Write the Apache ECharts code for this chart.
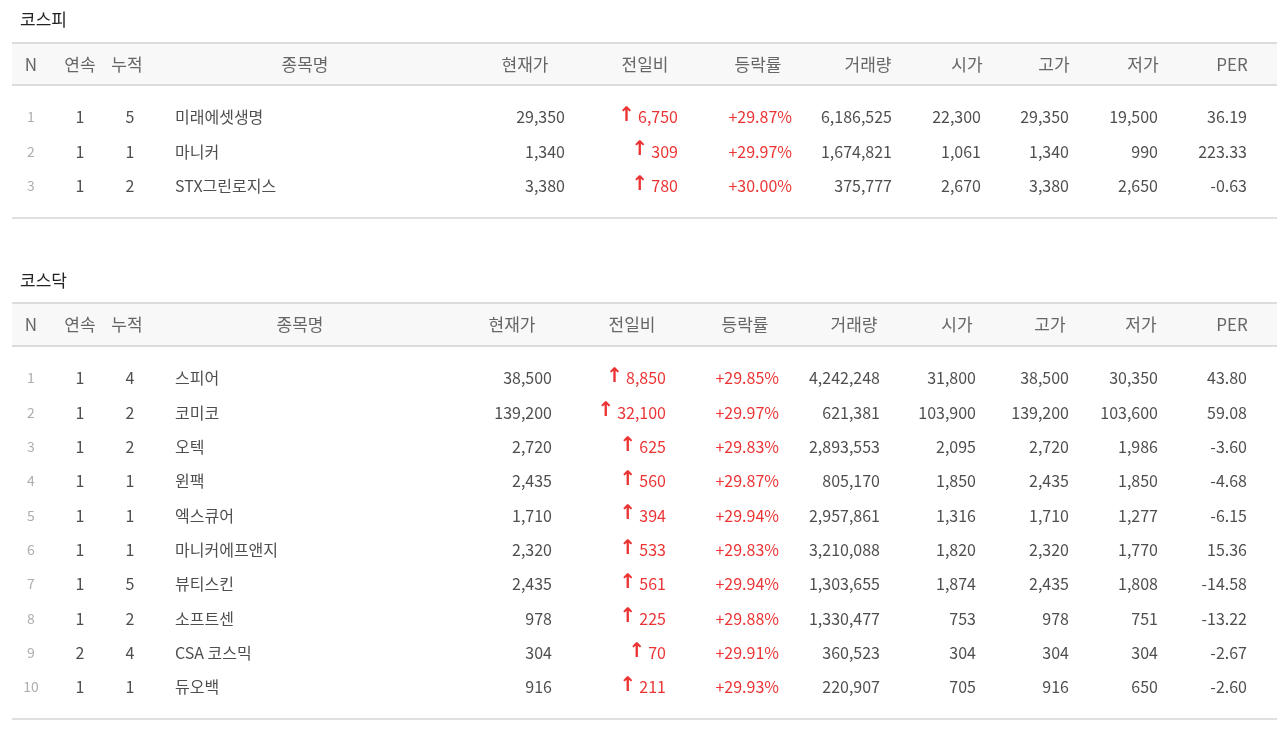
<!DOCTYPE html>
<html>
<head>
<meta charset="utf-8" />
<title>상한가</title>
<script src="https://cdn.jsdelivr.net/npm/echarts@6/dist/echarts.min.js"></script>
<style>
html, body { margin: 0; padding: 0; background: #fff; }
#main { width: 1280px; height: 730px; }
</style>
</head>
<body>
<div id="main"></div>
<script type="text/javascript">
var headers = ['N', '연속', '누적', '종목명', '현재가', '전일비', '등락률', '거래량', '시가', '고가', '저가', 'PER'];

// 코스피
var kospiNames = ['미래에셋생명', '마니커', 'STX그린로지스'];
var kospiStreak = [1, 1, 1];
var kospiCount = [5, 1, 2];
var kospiPrice = ['29,350', '1,340', '3,380'];
var kospiChange = ['6,750', '309', '780'];
var kospiRate = ['+29.87%', '+29.97%', '+30.00%'];
var kospiVolume = ['6,186,525', '1,674,821', '375,777'];
var kospiOpen = ['22,300', '1,061', '2,670'];
var kospiHigh = ['29,350', '1,340', '3,380'];
var kospiLow = ['19,500', '990', '2,650'];
var kospiPer = ['36.19', '223.33', '-0.63'];

// 코스닥
var kosdaqNames = ['스피어', '코미코', '오텍', '윈팩', '엑스큐어', '마니커에프앤지', '뷰티스킨', '소프트센', 'CSA 코스믹', '듀오백'];
var kosdaqStreak = [1, 1, 1, 1, 1, 1, 1, 1, 2, 1];
var kosdaqCount = [4, 2, 2, 1, 1, 1, 5, 2, 4, 1];
var kosdaqPrice = ['38,500', '139,200', '2,720', '2,435', '1,710', '2,320', '2,435', '978', '304', '916'];
var kosdaqChange = ['8,850', '32,100', '625', '560', '394', '533', '561', '225', '70', '211'];
var kosdaqRate = ['+29.85%', '+29.97%', '+29.83%', '+29.87%', '+29.94%', '+29.83%', '+29.94%', '+29.88%', '+29.91%', '+29.93%'];
var kosdaqVolume = ['4,242,248', '621,381', '2,893,553', '805,170', '2,957,861', '3,210,088', '1,303,655', '1,330,477', '360,523', '220,907'];
var kosdaqOpen = ['31,800', '103,900', '2,095', '1,850', '1,316', '1,820', '1,874', '753', '304', '705'];
var kosdaqHigh = ['38,500', '139,200', '2,720', '2,435', '1,710', '2,320', '2,435', '978', '304', '916'];
var kosdaqLow = ['30,350', '103,600', '1,986', '1,850', '1,277', '1,770', '1,808', '751', '304', '650'];
var kosdaqPer = ['43.80', '59.08', '-3.60', '-4.68', '-6.15', '15.36', '-14.58', '-13.22', '-2.67', '-2.60'];

var FONT = '"Noto Sans CJK KR", "Noto Sans", sans-serif';
var RED = '#e60000';

// layout per table: column anchor x, alignment, header centre x
var layouts = [
	{
		title: '코스피', titleY: 22, bandTop: 42, bandBottom: 85, bottom: 217,
		rowTop: 99.75, rowH: 34.5,
		headX: [31, 80, 127, 305, 525, 645, 758, 868, 967, 1054, 1143, 1232],
		colX: [31, 80, 130, 175, 565, 678, 792, 892, 981, 1069, 1158, 1247],
		cols: [null, kospiStreak, kospiCount, kospiNames, kospiPrice, kospiChange, kospiRate, kospiVolume, kospiOpen, kospiHigh, kospiLow, kospiPer]
	},
	{
		title: '코스닥', titleY: 283, bandTop: 302, bandBottom: 346, bottom: 718,
		rowTop: 361, rowH: 34.33,
		headX: [31, 80, 127, 300, 512, 632, 745, 854, 957, 1050, 1141, 1232],
		colX: [31, 80, 130, 175, 552, 666, 779, 880, 976, 1069, 1158, 1247],
		cols: [null, kosdaqStreak, kosdaqCount, kosdaqNames, kosdaqPrice, kosdaqChange, kosdaqRate, kosdaqVolume, kosdaqOpen, kosdaqHigh, kosdaqLow, kosdaqPer]
	}
];
var aligns = ['center', 'center', 'center', 'left', 'right', 'right', 'right', 'right', 'right', 'right', 'right', 'right'];

var grids = [], xAxes = [], yAxes = [], series = [], graphics = [];

layouts.forEach(function (t, ti) {
	var n = t.cols[3].length;
	var rows = [];
	for (var i = 0; i < n; i++) rows.push(String(i + 1));
	grids.push({ left: 0, right: 0, top: t.rowTop, height: t.rowH * n });
	xAxes.push({ gridIndex: ti, type: 'value', min: 0, max: 1280, show: false });
	yAxes.push({ gridIndex: ti, type: 'category', data: rows, inverse: true, show: false });

	graphics.push({ type: 'text', left: 20, top: t.titleY - 11, style: { text: t.title, font: '17px ' + FONT, fill: '#222' } });
	graphics.push({ type: 'rect', shape: { x: 12, y: t.bandTop, width: 1265, height: t.bandBottom - t.bandTop }, style: { fill: '#f8f8f8' } });
	graphics.push({ type: 'rect', shape: { x: 12, y: t.bandTop, width: 1265, height: 2 }, style: { fill: '#dcdcdc' } });
	graphics.push({ type: 'rect', shape: { x: 12, y: t.bandBottom - 1, width: 1265, height: 2 }, style: { fill: '#dcdcdc' } });
	graphics.push({ type: 'rect', shape: { x: 12, y: t.bottom, width: 1265, height: 2 }, style: { fill: '#e0e0e0' } });
	headers.forEach(function (h, c) {
		graphics.push({ type: 'text', x: t.headX[c], y: (t.bandTop + t.bandBottom) / 2 + 1,
			style: { text: h, font: '17px ' + FONT, fill: '#666', textAlign: 'center', textVerticalAlign: 'middle' } });
	});

	t.cols.forEach(function (col, c) {
		var data = [];
		for (var i = 0; i < n; i++) {
			var v = c === 0 ? String(i + 1) : String(col[i]);
			data.push([t.colX[c], String(i + 1), v]);
		}
		var color = c === 0 ? '#999' : (c === 5 || c === 6 ? RED : '#222');
		series.push({
			type: 'scatter', xAxisIndex: ti, yAxisIndex: ti, symbolSize: 0, silent: true,
			data: data,
			label: {
				show: true, position: 'inside', align: aligns[c], verticalAlign: 'middle',
				fontFamily: FONT, fontSize: c === 0 ? 14 : 16, color: color,
				formatter: c === 5 ? function (p) { return '{a|↑}' + p.value[2]; } : function (p) { return p.value[2]; },
				rich: { a: { color: RED, fontSize: 20, fontWeight: 'bold', fontFamily: 'DejaVu Sans', padding: [0, 3, 3, 0] } }
			}
		});
	});
});

var chart = echarts.init(document.getElementById('main'));
chart.setOption({
	animation: false,
	grid: grids,
	xAxis: xAxes,
	yAxis: yAxes,
	series: series,
	graphic: graphics
});
</script>
</body>
</html>
